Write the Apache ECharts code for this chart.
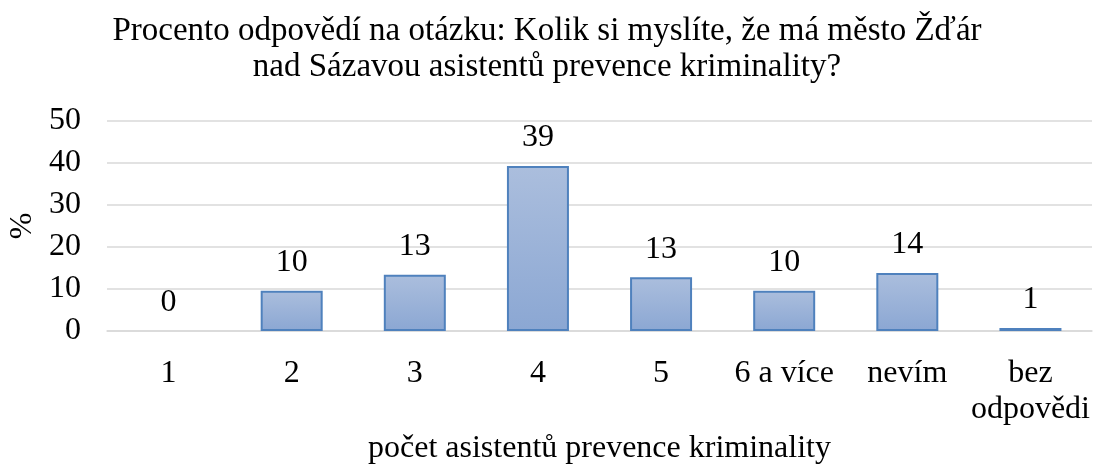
<!DOCTYPE html>
<html>
<head>
<meta charset="utf-8">
<script src="https://cdn.jsdelivr.net/npm/echarts@6/dist/echarts.min.js"></script>
<style>
html, body { margin: 0; padding: 0; background: #fff; }
#chart { width: 1094px; height: 465px; }
</style>
</head>
<body>
<div id="chart"></div>
<script>
// data
var categories = ['1', '2', '3', '4', '5', '6 a více', 'nevím', 'bez\nodpovědi'];
var percent = [0, 9.6, 13.4, 39.3, 12.8, 9.6, 13.8, 0.7];
var yTicks = { min: 0, max: 50, step: 10 };

var fontName = '"Liberation Serif", "Times New Roman", serif';

// a zero bar shows no outline in the original
var barData = percent.map(function (v) {
    return v === 0 ? { value: v, itemStyle: { borderWidth: 0 } } : v;
});

var chart = echarts.init(document.getElementById('chart'));
var option = {
    backgroundColor: '#fff',
    animation: false,
    textStyle: { fontFamily: fontName, color: '#000' },
    title: {
        text: 'Procento odpovědí na otázku: Kolik si myslíte, že má město Žďár\nnad Sázavou asistentů prevence kriminality?',
        left: 'center',
        top: 8,
        textStyle: {
            fontFamily: fontName,
            fontSize: 33,
            fontWeight: 'normal',
            color: '#000',
            lineHeight: 36,
            align: 'center'
        }
    },
    grid: { left: 107, right: 2, top: 121, bottom: 134, outerBoundsMode: 'none' },
    xAxis: {
        type: 'category',
        data: categories,
        axisLine: { lineStyle: { color: '#d9d9d9', width: 1.5 } },
        axisTick: { show: false },
        axisLabel: {
            fontFamily: fontName,
            fontSize: 32,
            color: '#000',
            lineHeight: 36,
            margin: 25,
            interval: 0
        },
        name: 'počet asistentů prevence kriminality',
        nameLocation: 'middle',
        nameGap: 102,
        nameTextStyle: { fontFamily: fontName, fontSize: 32, color: '#000' }
    },
    yAxis: {
        type: 'value',
        min: yTicks.min,
        max: yTicks.max,
        interval: yTicks.step,
        axisLine: { show: false },
        axisTick: { show: false },
        splitLine: { lineStyle: { color: '#d9d9d9', width: 1.5 } },
        axisLabel: { fontFamily: fontName, fontSize: 32, color: '#000', margin: 26 },
        name: '%',
        nameLocation: 'middle',
        nameRotate: 90,
        nameGap: 66,
        nameTextStyle: { fontFamily: fontName, fontSize: 32, color: '#000' }
    },
    series: [{
        type: 'bar',
        data: barData,
        barWidth: 62,
        itemStyle: {
            color: new echarts.graphic.LinearGradient(0, 0, 0, 1, [
                { offset: 0, color: '#abbedd' },
                { offset: 1, color: '#8ba7d3' }
            ]),
            borderColor: '#4f81bd',
            borderWidth: 2
        },
        label: {
            show: true,
            position: 'top',
            distance: 12,
            fontFamily: fontName,
            fontSize: 32,
            color: '#000',
            formatter: function (p) {
                return Math.round(p.value);
            }
        }
    }]
};
chart.setOption(option);
</script>
</body>
</html>
